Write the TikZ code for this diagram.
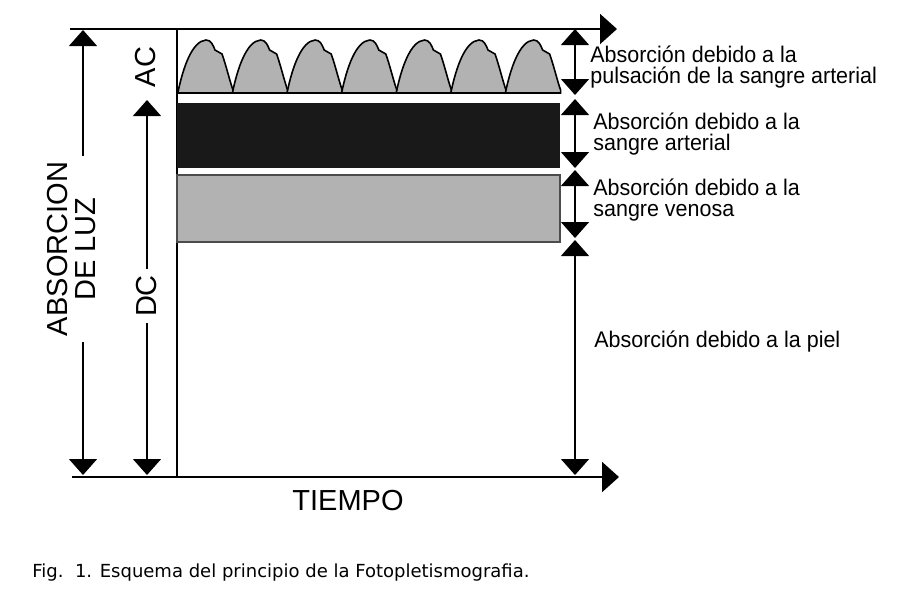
\documentclass[tikz,border=0pt]{standalone}
\usepackage{fontspec}
\setmainfont{Liberation Sans}
\newfontfamily\lblfont[FakeStretch=0.95]{Liberation Sans}
\newfontfamily\capfont{DejaVu Sans}
\usetikzlibrary{arrows.meta}
\begin{document}
\begin{tikzpicture}[x=0.5pt,y=-0.5pt,
    axis/.style={line width=1pt,-{Triangle[width=15pt,length=8.5pt]}},
    dim/.style={line width=0.7pt,{Triangle[width=14pt,length=8pt]}-{Triangle[width=14pt,length=8pt]}},
    halfdim/.style={line width=0.7pt,-{Triangle[width=14pt,length=8pt]}},
    big/.style={font=\fontsize{14.5}{14}\selectfont,rotate=90,inner sep=3pt},
    lbl/.style={font=\lblfont\fontsize{11.3}{10.2}\selectfont,align=left,anchor=west,inner sep=0pt},
    pulse/.style={fill=gray!60,draw=black,line width=0.8pt}]
\useasboundingbox (0,0) rectangle (903,596);
% axes
\coordinate (topL) at (70,29);
\coordinate (topR) at (617,29);
\coordinate (botL) at (72,477);
\coordinate (botR) at (619,477);
\coordinate (axT) at (177,29);
\coordinate (axB) at (177,477);
\draw[axis] (topL) -- (topR);
\draw[axis] (botL) -- (botR);
\draw[line width=1pt] (axT) -- (axB);
% pulsatile part
\foreach \i in {0,...,6}
  \draw[pulse,shift={({178+\i*54.6},0)}] (0,93) -- (0,92)
    .. controls (5,68) and (14,41) .. (28,40)
    .. controls (33,40) and (35,45) .. (37,50)
    .. controls (39,52) and (42,52) .. (44,54)
    .. controls (48,65) and (52,82) .. (55,90) -- (55,93) -- cycle;
\draw[line width=1pt] (177,93) -- (560,93);
% blood and tissue layers
\fill[black!90] (177,103) rectangle (560,168);
\draw[fill=gray!60,draw=black!70,line width=0.6pt] (177,175) rectangle (560,242);
% left labels
\node[big,align=center] (absorcion) at (72,249) {ABSORCION\\DE LUZ};
\coordinate (absT) at (83,30);
\coordinate (absB) at (83,475);
\draw[halfdim] (absorcion.east -| absT) -- (absT);
\draw[halfdim] (absorcion.west -| absB) -- (absB);
\node[big] (ac) at (146,67) {AC};
\node[big] (dc) at (147,296) {DC};
\coordinate (dcT) at (147,100);
\coordinate (dcB) at (147,475);
\draw[halfdim] (dc.east) -- (dcT);
\draw[halfdim] (dc.west) -- (dcB);
% right dimensions
\foreach \a/\b in {29/95,99/168,170/238,240/475}
  \draw[dim] (575,\a) -- (575,\b);
\node[lbl] (pulsacion) at (590,67) {Absorción debido a la\\pulsación de la sangre arterial};
\node[lbl] (arterial) at (593,134) {Absorción debido a la\\sangre arterial};
\node[lbl] (venosa) at (593,200) {Absorción debido a la\\sangre venosa};
\node[lbl] (piel) at (594,342) {Absorción debido a la piel};
\node[font=\fontsize{14.5}{14}\selectfont] (tiempo) at (348,501) {TIEMPO};
\node[font=\capfont\fontsize{9}{9}\selectfont,anchor=base west,inner sep=0pt] (caption) at (32,577) {Fig.\ \ 1. Esquema del principio de la Fotopletismografia.};
\end{tikzpicture}
\end{document}
